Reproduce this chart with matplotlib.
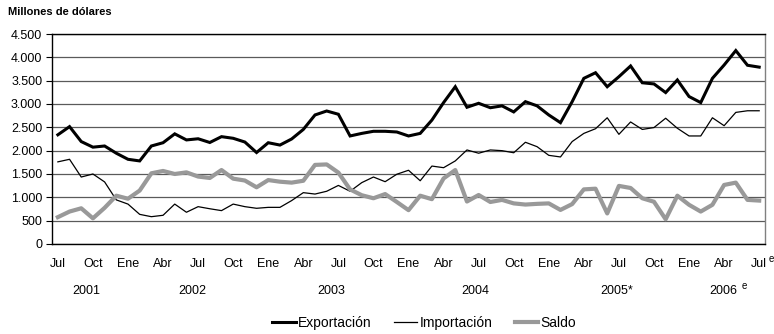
import matplotlib
matplotlib.use("Agg")
import matplotlib.pyplot as plt
import numpy as np

plt.rcParams['font.family'] = ['Liberation Sans', 'DejaVu Sans']

# monthly series, Jul 2001 - Jul 2006 (millones de dólares)
exportacion = [2340, 2515, 2195, 2075, 2100, 1945,
               1815, 1780, 2100, 2170, 2360, 2230, 2255, 2175, 2300, 2265, 2185, 1960,
               2170, 2120, 2250, 2455, 2765, 2850, 2780, 2315, 2370, 2415, 2415, 2400,
               2315, 2370, 2655, 3030, 3370, 2930, 3015, 2920, 2960, 2830, 3050, 2960,
               2765, 2600, 3050, 3550, 3670, 3370, 3585, 3815, 3455, 3430, 3245, 3515,
               3160, 3030, 3550, 3835, 4145, 3830, 3790]
importacion = [1760, 1815, 1435, 1500, 1330, 945,
               855, 635, 585, 615, 855, 680, 800, 755, 715, 855, 800, 765,
               785, 785, 930, 1100, 1070, 1130, 1255, 1130, 1315, 1435, 1335, 1495,
               1580, 1355, 1670, 1635, 1780, 2015, 1945, 2015, 2000, 1955, 2180, 2085,
               1900, 1865, 2195, 2370, 2470, 2705, 2350, 2615, 2455, 2495, 2695, 2480,
               2315, 2315, 2705, 2535, 2820, 2855, 2855]
saldo = [575, 695, 765, 550, 775, 1035,
         970, 1145, 1515, 1565, 1500, 1535, 1445, 1415, 1585, 1400, 1360, 1215,
         1370, 1335, 1315, 1355, 1695, 1705, 1530, 1170, 1045, 980, 1070, 900,
         725, 1035, 960, 1405, 1585, 910, 1050, 900, 945, 870, 845, 860,
         870, 730, 855, 1170, 1185, 655, 1245, 1200, 980, 905, 530, 1035,
         840, 695, 840, 1265, 1315, 945, 930]

tick_labels = ['Jul', 'Oct', 'Ene', 'Abr'] * 5 + ['Jul']
years = ['2001', '2002', '2003', '2004', '2005*', '2006']
year_pos = [2.4, 11.5, 23.4, 35.7, 47.8, 56.9]

x = np.arange(len(exportacion))

fig = plt.figure(figsize=(7.74, 3.34), dpi=100)
ax = fig.add_axes([0.0672, 0.2695, 0.9212, 0.6287])

l1, = ax.plot(x, exportacion, color='black', lw=2.2, solid_joinstyle='miter')
l2, = ax.plot(x, importacion, color='black', lw=0.9)
l3, = ax.plot(x, saldo, color='#999999', lw=3.0)

ax.set_xlim(-0.5, len(x) - 0.5)
ax.set_ylim(0, 4500)
ax.set_yticks(np.arange(0, 4501, 500))
ax.set_yticklabels([f'{v:,}'.replace(',', '.') for v in range(0, 4501, 500)])
ax.yaxis.grid(True, color='#5a5a5a', lw=0.9)
ax.set_axisbelow(True)

ax.set_xticks(x[::3])
ax.set_xticklabels(tick_labels)
ax.tick_params(axis='x', length=0, pad=10, labelsize=9)
ax.tick_params(axis='y', length=4, width=0.8, pad=3, labelsize=9)

for s in ['left', 'bottom', 'top']:
    ax.spines[s].set_color('black')
    ax.spines[s].set_linewidth(1.0)
ax.spines['right'].set_color('#808080')
ax.spines['right'].set_linewidth(1.0)

# year labels under the month labels
trans = ax.get_xaxis_transform()
for yr, p in zip(years, year_pos):
    ax.text(p, -0.225, yr, transform=trans, ha='center', va='center', fontsize=9)
ax.text(58.5, -0.2, 'e', transform=trans, ha='left', va='center', fontsize=7)
ax.text(60.8, -0.07, 'e', transform=trans, ha='left', va='center', fontsize=7)

fig.text(0.010, 0.963, 'Millones de dólares', fontsize=8, fontweight='bold',
         ha='left', va='center')

fig.legend([l1, l2, l3], ['Exportación', 'Importación', 'Saldo'],
           loc='center', bbox_to_anchor=(0.548, 0.032), ncol=3, frameon=False,
           fontsize=10, handlelength=1.7, handletextpad=0.15, columnspacing=1.6)

fig.savefig('out.png', dpi=100)
